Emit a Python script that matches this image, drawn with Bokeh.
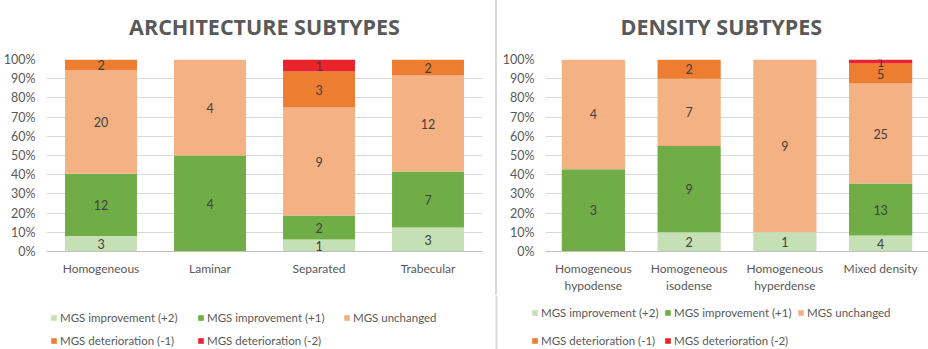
from bokeh.plotting import figure
from bokeh.models import (ColumnDataSource, FactorRange, Range1d, NumeralTickFormatter,
                          FixedTicker, Legend, LegendItem, Div, Span, Title)
from bokeh.layouts import row, column
from bokeh.core.properties import value
from bokeh.embed import file_html
from bokeh.resources import INLINE

# ---- data ----
series = ["MGS improvement (+2)", "MGS improvement (+1)", "MGS unchanged",
          "MGS deterioration (-1)", "MGS deterioration (-2)"]
colors = ["#C5E0B4", "#70AD47", "#F4B183", "#ED7D31", "#E8232A"]

arch_cats = ["Homogeneous", "Laminar", "Separated", "Trabecular"]
arch_imp2 = [3, 0, 1, 3]
arch_imp1 = [12, 4, 2, 7]
arch_unch = [20, 4, 9, 12]
arch_det1 = [2, 0, 3, 2]
arch_det2 = [0, 0, 1, 0]

dens_cats = ["Homogeneous\nhypodense", "Homogeneous\nisodense", "Homogeneous\nhyperdense", "Mixed density"]
dens_imp2 = [0, 2, 1, 4]
dens_imp1 = [3, 9, 0, 13]
dens_unch = [4, 7, 9, 25]
dens_det1 = [0, 2, 0, 5]
dens_det2 = [0, 0, 0, 1]

yticks = [0, 0.1, 0.2, 0.3, 0.4, 0.5, 0.6, 0.7, 0.8, 0.9, 1.0]

FONT = "Lato"
TXT = "#595959"
GRID = "#D9D9D9"
CHART_H = 295
LEG_H = 349 - CHART_H


def make_panel(title, cats, counts, width, border_left, border_right, title_align, title_offset):
    keys = ["s0", "s1", "s2", "s3", "s4"]
    totals = [sum(c[i] for c in counts) for i in range(len(cats))]
    data = {"cat": cats}
    for k, c in zip(keys, counts):
        data[k] = [v / t for v, t in zip(c, totals)]
    src = ColumnDataSource(data)

    p = figure(x_range=FactorRange(*cats), y_range=Range1d(0, 1), width=width, height=CHART_H,
               output_backend="svg", toolbar_location=None,
               min_border_left=border_left, min_border_right=border_right,
               min_border_top=59, min_border_bottom=CHART_H - 253)
    p.outline_line_color = None

    p.vbar_stack(keys, x="cat", width=0.66, color=colors, line_color=None, source=src)

    # segment labels
    lx, ly, lt = [], [], []
    for i, cat in enumerate(cats):
        base = 0.0
        for c in counts:
            v = c[i]
            frac = v / totals[i]
            if v > 0:
                lx.append(cat)
                ly.append(base + frac / 2)
                lt.append(str(v))
            base += frac
    lsrc = ColumnDataSource(dict(x=lx, y=ly, t=lt))
    p.text(x="x", y="y", text="t", source=lsrc, text_align="center", text_baseline="middle",
           text_font=value(FONT), text_font_size="12.5px", text_color="#404040")

    p.title.text = title
    p.title.align = title_align
    p.title.offset = title_offset
    p.title.vertical_align = "top"
    p.title.text_font = "Open Sans"
    p.title.text_font_style = "bold"
    p.title.text_font_size = "21.5px"
    p.title.text_color = TXT
    p.title.standoff = 0
    # blank spacer between title and plot area
    p.add_layout(Title(text=" ", text_font_size="10px", standoff=4), "above")

    p.yaxis.ticker = FixedTicker(ticks=yticks)
    p.yaxis.formatter = NumeralTickFormatter(format="0%")
    p.yaxis.axis_line_color = None
    p.yaxis.major_tick_line_color = None
    p.yaxis.minor_tick_line_color = None
    p.yaxis.major_label_text_font = FONT
    p.yaxis.major_label_text_font_size = "12.5px"
    p.yaxis.major_label_text_color = TXT
    p.yaxis.major_label_standoff = 5

    p.xaxis.axis_line_color = "#BFBFBF"
    p.xaxis.major_tick_line_color = None
    p.xaxis.minor_tick_line_color = None
    p.xaxis.major_tick_out = 0
    p.xaxis.major_tick_in = 0
    p.xaxis.major_label_text_font = FONT
    p.xaxis.major_label_text_font_size = "12px"
    p.xaxis.major_label_text_color = TXT
    p.xaxis.major_label_text_line_height = 1.15
    p.xaxis.major_label_standoff = 9

    p.xgrid.grid_line_color = None
    p.ygrid.ticker = FixedTicker(ticks=yticks)
    p.ygrid.grid_line_color = GRID
    return p


p1 = make_panel("ARCHITECTURE SUBTYPES", arch_cats,
                [arch_imp2, arch_imp1, arch_unch, arch_det1, arch_det2],
                495, 46, 13, "center", 0)
p2 = make_panel("DENSITY SUBTYPES", dens_cats,
                [dens_imp2, dens_imp1, dens_unch, dens_det1, dens_det2],
                431, 48, 0, "left", 75)

# legend strip spanning the full width (pixel-like coordinates)
strip = figure(width=928, height=LEG_H, x_range=Range1d(0, 928), y_range=Range1d(0, LEG_H),
               output_backend="svg", toolbar_location=None,
               x_axis_location=None, y_axis_location=None,
               min_border_left=0, min_border_right=0, min_border_top=0, min_border_bottom=0)
strip.grid.visible = False
strip.outline_line_color = None
strip.add_layout(Span(location=496, dimension="height", line_color=GRID, line_width=2))
dummies = [strip.vbar(x=[464], top=[0], bottom=[0], width=1, fill_color=c, line_color=None)
           for c in colors]

leg_positions = [
    [(50, 25), (197, 25), (343, 25), (50, 2), (197, 2)],
    [(531, 30), (664, 30), (797, 30), (531, 2), (664, 2)],
]
for positions in leg_positions:
    for i, (lx_, ly_) in enumerate(positions):
        L = Legend(items=[LegendItem(label=series[i], renderers=[dummies[i]])],
                   orientation="horizontal", location=(lx_, ly_), padding=0, margin=0,
                   spacing=0, border_line_color=None, background_fill_alpha=0,
                   glyph_width=7, glyph_height=7, label_standoff=3, label_height=14,
                   label_text_font=FONT, label_text_font_size="11.5px", label_text_color=TXT)
        strip.add_layout(L, "center")

div = Div(width=2, height=CHART_H, margin=0, styles={"background-color": GRID})
layout = column(row(p1, div, p2, spacing=0), strip, spacing=0)

open("out.html", "w").write(file_html(layout, INLINE))
